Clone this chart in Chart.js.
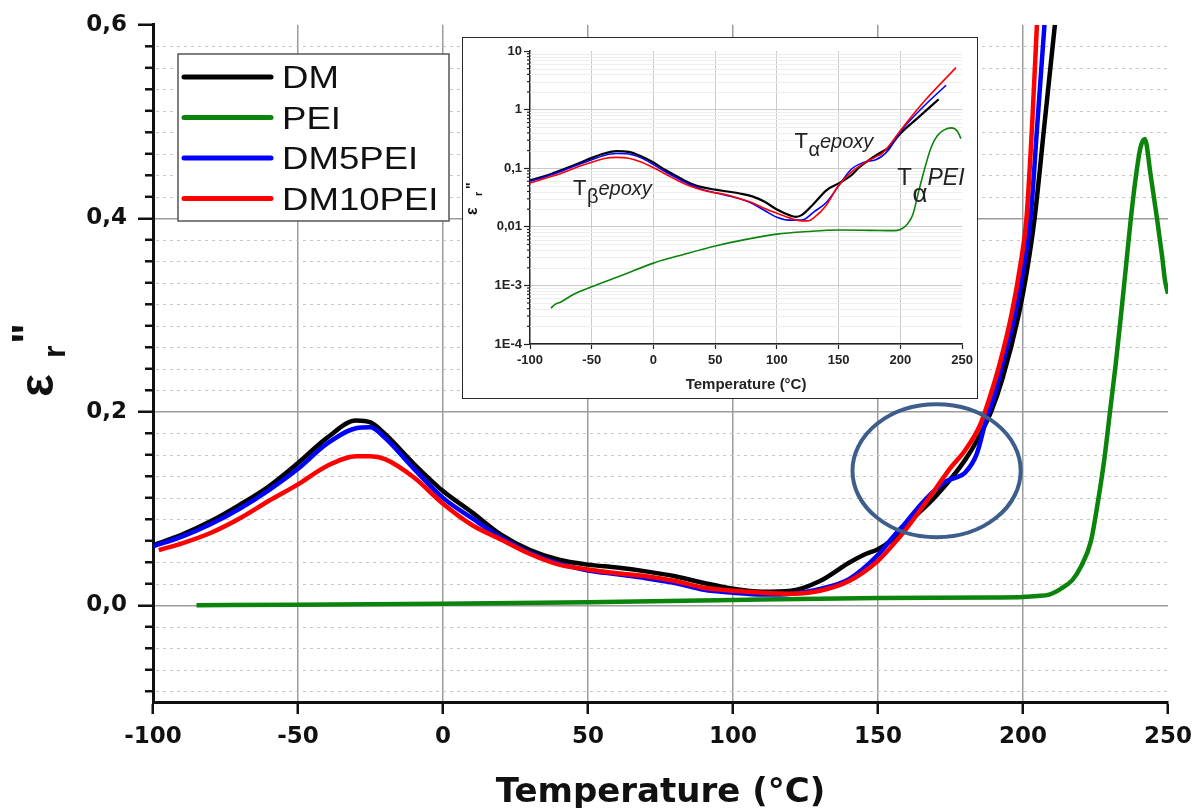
<!DOCTYPE html>
<html>
<head>
<meta charset="utf-8">
<title>Dielectric loss vs temperature</title>
<script src="https://cdn.jsdelivr.net/npm/chart.js@4.4.1/dist/chart.umd.min.js"></script>
<style>
  body { margin: 0; background: #fff; }
  #wrap { position: relative; width: 1203px; height: 808px; overflow: hidden; }
  #main { position: absolute; left: 0; top: 0; }
  #insetBox { position: absolute; left: 462px; top: 37px; width: 514px; height: 360px;
              border: 1px solid #2a2a2a; background: #fff; }
  #inset { display: block; }
</style>
</head>
<body>
<div id="wrap">
  <canvas id="main" width="1203" height="808"></canvas>
  <div id="insetBox"><canvas id="inset" width="514" height="360"></canvas></div>
</div>
<script>
// ---- main plot data: [temperature °C, eps''] ----
const dmMain = [[-100,.062],[-90,.073],[-80,.087],[-70,.104],[-60,.123],[-50,.147],[-40,.173],[-30,.191],
  [-25,.189],[-20,.177],[-10,.146],[0,.118],[10,.096],[20,.073],[30,.057],[40,.047],[50,.042],[60,.039],
  [70,.035],[80,.030],[90,.023],[100,.017],[110,.014],[120,.015],[130,.025],[140,.044],[145,.052],[150,.058],
  [155,.068],[160,.084],[170,.113],[180,.150],[185,.175],[189,.2],[193,.235],[198.5,.3],[201.6,.35],
  [204,.4],[207.5,.5],[211,.6]];
const peiMain = [[-85,.0],[-50,.0005],[0,.0015],[50,.003],[100,.0055],[150,.0075],[190,.008],[200,.0085],
  [205,.0095],[209,.011],[213,.017],[217,.026],[220,.04],[223.4,.066],[226,.11],[228,.15],[230,.2],
  [232,.25],[233.8,.3],[235.5,.35],[237.2,.4],[239,.445],[240.5,.473],[242,.482],[244,.445],[246.2,.4],
  [248,.36],[249,.335],[250,.322]];
const dm5Main = [[-100,.061],[-90,.071],[-80,.084],[-70,.100],[-60,.119],[-50,.141],[-40,.167],[-30,.183],
  [-25,.184],[-20,.173],[-10,.141],[0,.111],[10,.090],[20,.070],[30,.054],[40,.043],[50,.036],[60,.032],
  [70,.028],[80,.023],[90,.016],[100,.013],[110,.011],[120,.012],[130,.017],[140,.027],[150,.052],[155,.07],
  [160,.087],[165,.105],[170,.12],[174,.129],[177,.132],[180,.137],[184,.156],[187.5,.194],[190,.215],
  [193,.25],[197.2,.3],[200.3,.35],[202.6,.4],[205,.5],[207.4,.6]];
const dm10Main = [[-98,.057],[-90,.064],[-80,.075],[-70,.090],[-60,.108],[-50,.125],[-40,.144],[-30,.154],
  [-25,.154],[-20,.151],[-10,.132],[0,.105],[10,.083],[20,.068],[30,.053],[40,.042],[50,.037],[60,.033],
  [70,.030],[80,.025],[90,.018],[100,.015],[110,.013],[120,.012],[130,.015],[140,.025],[150,.046],[155,.062],
  [160,.080],[170,.121],[175,.142],[180,.16],[185,.185],[188,.21],[192,.25],[196,.3],[199,.35],[201.2,.4],
  [203.2,.5],[204.8,.6]];

// ---- inset data (log scale) ----
const dmInset = [[-100,.062],[-90,.071],[-75,.092],[-60,.123],[-50,.15],[-40,.178],[-30,.195],[-20,.19],
  [-10,.16],[0,.125],[10,.092],[20,.071],[30,.055],[40,.047],[50,.043],[60,.040],[70,.037],[80,.033],
  [90,.0267],[100,.0197],[110,.0158],[115,.0148],[120,.0158],[130,.025],[140,.042],[150,.055],[160,.075],
  [167,.105],[175,.14],[183,.18],[190,.22],[200,.39],[215,.75],[231,1.5]];
const peiInset = [[-83,.00041],[-80,.00047],[-75,.00052],[-65,.0007],[-50,.00095],[-25,.0015],[0,.0024],
  [25,.0034],[50,.0047],[75,.0061],[100,.0075],[125,.0083],[150,.0088],[175,.0087],[195,.0086],[200,.009],
  [205,.0107],[210,.016],[215,.042],[220,.105],[225,.23],[230,.36],[235.5,.45],[241,.487],[246.4,.42],[249,.32]];
const dm5Inset = [[-100,.060],[-90,.069],[-75,.088],[-60,.117],[-50,.14],[-40,.165],[-30,.178],[-20,.175],
  [-10,.15],[0,.115],[10,.086],[20,.066],[30,.052],[40,.043],[50,.038],[60,.034],[70,.030],[80,.025],
  [90,.019],[100,.0145],[110,.013],[120,.013],[130,.018],[140,.026],[150,.05],[160,.095],[170,.125],
  [180,.14],[185,.16],[190,.2],[200,.42],[220,1.2],[237,2.6]];
const dm10Inset = [[-100,.056],[-90,.065],[-75,.081],[-60,.108],[-50,.126],[-40,.146],[-30,.153],[-20,.148],
  [-10,.128],[0,.102],[10,.079],[20,.061],[30,.049],[40,.042],[50,.038],[60,.035],[70,.030],[80,.0257],
  [90,.0206],[100,.017],[110,.0142],[120,.0126],[125,.0126],[130,.0143],[140,.0234],[150,.051],[160,.085],
  [170,.12],[180,.156],[185,.178],[190,.23],[200,.44],[220,1.44],[245,5.2]];

const seriesNames = ['DM', 'PEI', 'DM5PEI', 'DM10PEI'];
const mainTicksY = [0, 0.2, 0.4, 0.6];
const insetTicksY = [1e-4, 1e-3, 1e-2, 0.1, 1, 10];
const insetTickLabels = ['1E-4', '1E-3', '0,01', '0,1', '1', '10'];
const insetNotes = [
  {x: -65.2, y: 0.035, sub: 'β', sup: 'epoxy'},
  {x: 114.2, y: 0.22, sub: 'α', sup: 'epoxy'},
  {x: 197.5, y: 0.0514, sub: 'α', sup: 'PEI', big: true}
];
// highlighted region (ellipse) in data units
const ringCenter = {x: 170.2, y: 0.139};
const ringRadius = {x: 29, y: 0.0687};

const lineColors = ['#000000', '#0b840b', '#0000ff', '#ff0000'];
const drawOrder = [2, 3, 1, 0];
const yMinorStep = 0.2 / 9;

Chart.defaults.font.family = '"DejaVu Sans", sans-serif';
Chart.defaults.color = '#111';

function toXY(pts) {
  return pts.map(p => ({x: p[0], y: p[1]}));
}

function makeDatasets(series, widths) {
  return series.map((pts, i) => ({
    label: seriesNames[i],
    data: toXY(pts),
    borderColor: lineColors[i],
    backgroundColor: lineColors[i],
    borderWidth: widths[i],
    pointRadius: 0,
    fill: false,
    cubicInterpolationMode: 'monotone',
    order: drawOrder[i]
  }));
}

// draws eps with subscript r and '' , rotated, baseline at (x, y)
function drawEps(ctx, x, y, s) {
  ctx.save();
  ctx.translate(x, y);
  ctx.rotate(-Math.PI / 2);
  ctx.fillStyle = '#111';
  ctx.textBaseline = 'alphabetic';
  ctx.font = 'bold ' + s.eps + 'px "Liberation Sans"';
  ctx.fillText('ε', 0, 0);
  ctx.font = 'bold ' + s.r + 'px "Liberation Sans"';
  ctx.fillText('r', s.rx, s.ry);
  ctx.font = 'bold ' + s.q + 'px "Liberation Sans"';
  ctx.fillText('"', s.qx, s.qy);
  ctx.restore();
}

const mainDecor = {
  id: 'mainDecor',
  beforeDatasetsDraw(chart) {
    const {ctx, chartArea: a, scales: {y}} = chart;
    ctx.save();
    ctx.strokeStyle = '#c6c6c6';
    ctx.lineWidth = 1.2;
    ctx.setLineDash([3, 4]);
    for (let k = -4; k <= 26; k++) {
      if (k % 9 === 0) continue;
      const py = Math.round(y.getPixelForValue(k * yMinorStep)) + 0.5;
      ctx.beginPath();
      ctx.moveTo(a.left + 3, py);
      ctx.lineTo(a.right, py);
      ctx.stroke();
    }
    ctx.restore();
  },
  afterDatasetsDraw(chart) {
    const {ctx, scales: {x, y}} = chart;
    const cx = x.getPixelForValue(ringCenter.x);
    const cy = y.getPixelForValue(ringCenter.y);
    const rx = x.getPixelForValue(ringCenter.x + ringRadius.x) - cx;
    const ry = cy - y.getPixelForValue(ringCenter.y + ringRadius.y);
    ctx.save();
    ctx.strokeStyle = '#3d5e8c';
    ctx.lineWidth = 4;
    ctx.beginPath();
    ctx.ellipse(cx, cy, rx, ry, 0, 0, Math.PI * 2);
    ctx.stroke();
    ctx.restore();
  },
  afterDraw(chart) {
    const {ctx, chartArea: a, scales: {y}} = chart;
    // minor ticks on y axis
    ctx.save();
    ctx.strokeStyle = '#111';
    ctx.lineWidth = 2.5;
    for (let k = -4; k <= 26; k++) {
      if (k % 9 === 0) continue;
      const py = y.getPixelForValue(k * yMinorStep);
      ctx.beginPath();
      ctx.moveTo(a.left - 8, py);
      ctx.lineTo(a.left, py);
      ctx.stroke();
    }
    ctx.restore();

    // legend box
    const box = {x: 178, y: 54, w: 271, h: 167};
    ctx.save();
    ctx.fillStyle = '#fff';
    ctx.fillRect(box.x, box.y, box.w, box.h);
    ctx.strokeStyle = '#555';
    ctx.lineWidth = 1.5;
    ctx.strokeRect(box.x, box.y, box.w, box.h);
    chart.data.datasets.forEach((ds, i) => {
      const ly = 77 + i * 40.5;
      ctx.strokeStyle = ds.borderColor;
      ctx.lineWidth = 5;
      ctx.lineCap = 'round';
      ctx.beginPath();
      ctx.moveTo(184, ly);
      ctx.lineTo(271, ly);
      ctx.stroke();
      ctx.save();
      ctx.translate(282, ly + 11);
      ctx.scale(1.18, 1);
      ctx.fillStyle = '#111';
      ctx.font = '31px "Liberation Sans"';
      ctx.textBaseline = 'alphabetic';
      ctx.fillText(ds.label, 0, 0);
      ctx.restore();
    });
    ctx.restore();

    drawEps(ctx, 53, 397, {eps: 48, r: 32, rx: 39, ry: 12, q: 44, qx: 53, qy: -10});
  }
};

new Chart(document.getElementById('main'), {
  type: 'line',
  data: {datasets: makeDatasets([dmMain, peiMain, dm5Main, dm10Main], [4.5, 4.5, 4.5, 4.5])},
  options: {
    responsive: false,
    animation: false,
    layout: {padding: {top: 24, right: 35, left: 0, bottom: 0}},
    plugins: {legend: {display: false}, tooltip: {enabled: false}},
    scales: {
      x: {
        type: 'linear', min: -100, max: 250,
        afterFit(s) { s.height = 106; },
        ticks: {stepSize: 50, maxRotation: 0, autoSkip: false, padding: 9,
                font: {size: 23, weight: 'bold'}, color: '#111'},
        grid: {
          color: c => (c.tick && (c.tick.value === -100 || c.tick.value === 250)) ? 'rgba(0,0,0,0)' : '#9c9c9c',
          lineWidth: 1.5, tickColor: '#111', tickLength: 12, tickWidth: 2.5
        },
        border: {color: '#111', width: 3},
        title: {display: true, text: 'Temperature (°C)', color: '#111',
                font: {size: 34, weight: 'bold', lineHeight: 0.85}, padding: {top: 0, bottom: 0}}
      },
      y: {
        type: 'linear', min: -0.1, max: 0.6,
        afterFit(s) { s.width = 153; },
        afterBuildTicks(s) { s.ticks = mainTicksY.map(v => ({value: v})); },
        ticks: {padding: 11, font: {size: 23, weight: 'bold'}, color: '#111',
                callback: v => v.toFixed(1).replace('.', ',')},
        grid: {
          color: c => (c.tick && Math.abs(c.tick.value - 0.6) < 1e-9) ? 'rgba(0,0,0,0)' : '#9c9c9c',
          lineWidth: 1.5, tickColor: '#111', tickLength: 15, tickWidth: 2.5
        },
        border: {color: '#111', width: 3}
      }
    }
  },
  plugins: [mainDecor]
});

// ---- inset ----
const insetDecor = {
  id: 'insetDecor',
  beforeDatasetsDraw(chart) {
    const {ctx, chartArea: a, scales: {y}} = chart;
    ctx.save();
    ctx.strokeStyle = '#eeeeee';
    ctx.lineWidth = 1;
    for (let n = -4; n <= 0; n++) {
      for (let k = 2; k <= 9; k++) {
        const py = Math.round(y.getPixelForValue(k * Math.pow(10, n))) + 0.5;
        ctx.beginPath();
        ctx.moveTo(a.left, py);
        ctx.lineTo(a.right, py);
        ctx.stroke();
      }
    }
    ctx.restore();
  },
  afterDraw(chart) {
    const {ctx, chartArea: a, scales: {x, y}} = chart;
    ctx.save();
    ctx.strokeStyle = '#222';
    ctx.lineWidth = 1.2;
    for (let n = -4; n <= 0; n++) {
      for (let k = 2; k <= 9; k++) {
        const py = y.getPixelForValue(k * Math.pow(10, n));
        ctx.beginPath();
        ctx.moveTo(a.left - 3, py);
        ctx.lineTo(a.left, py);
        ctx.stroke();
      }
    }
    ctx.restore();

    // T labels
    insetNotes.forEach(n => {
      const px = x.getPixelForValue(n.x);
      const py = y.getPixelForValue(n.y);
      const tSize = n.big ? 24 : 22;
      const gSize = n.big ? 26 : 20;
      const sSize = n.big ? 23 : 20;
      ctx.save();
      ctx.fillStyle = '#222';
      ctx.textBaseline = 'alphabetic';
      ctx.font = tSize + 'px "Liberation Sans"';
      ctx.fillText('T', px, py);
      let cx = px + ctx.measureText('T').width + 0.5;
      ctx.font = gSize + 'px "Liberation Sans"';
      ctx.fillText(n.sub, cx, py + (n.big ? 17 : 8));
      cx += ctx.measureText(n.sub).width;
      ctx.font = 'italic ' + sSize + 'px "Liberation Sans"';
      ctx.fillText(n.sup, cx, py);
      ctx.restore();
    });

    drawEps(ctx, 14, 177, {eps: 16, r: 11, rx: 19, ry: 5, q: 14, qx: 26, qy: -1});
  }
};

const insetFont = '"Liberation Sans Narrow", "Liberation Sans", sans-serif';

new Chart(document.getElementById('inset'), {
  type: 'line',
  data: {datasets: makeDatasets([dmInset, peiInset, dm5Inset, dm10Inset], [2.2, 1.6, 1.6, 1.6])},
  options: {
    responsive: false,
    animation: false,
    layout: {padding: {top: 13, right: 14, left: 0, bottom: 0}},
    plugins: {legend: {display: false}, tooltip: {enabled: false}},
    scales: {
      x: {
        type: 'linear', min: -100, max: 250,
        afterFit(s) { s.height = 54; },
        ticks: {stepSize: 50, maxRotation: 0, autoSkip: false, padding: 4,
                font: {family: insetFont, size: 13, weight: 'bold'}, color: '#222'},
        grid: {
          color: c => (c.tick && (c.tick.value === -100 || c.tick.value === 250)) ? 'rgba(0,0,0,0)' : '#cacaca',
          lineWidth: 1, tickColor: '#222', tickLength: 5, tickWidth: 1.2
        },
        border: {color: '#222', width: 1.5},
        title: {display: true, text: 'Temperature (°C)', color: '#222',
                font: {family: insetFont, size: 15, weight: 'bold'}, padding: {top: 0, bottom: 4}}
      },
      y: {
        type: 'logarithmic', min: 1e-4, max: 10,
        afterFit(s) { s.width = 67; },
        afterBuildTicks(s) { s.ticks = insetTicksY.map(v => ({value: v})); },
        ticks: {padding: 2, font: {family: insetFont, size: 13, weight: 'bold'}, color: '#222',
                callback: v => {
                  const i = insetTicksY.findIndex(t => Math.abs(Math.log10(t) - Math.log10(v)) < 1e-6);
                  return i < 0 ? '' : insetTickLabels[i];
                }},
        grid: {
          color: c => (c.tick && c.tick.value >= 9.99) ? 'rgba(0,0,0,0)' : '#cacaca',
          lineWidth: 1, tickColor: '#222', tickLength: 6, tickWidth: 1.2
        },
        border: {color: '#222', width: 1.5}
      }
    }
  },
  plugins: [insetDecor]
});
</script>
</body>
</html>
